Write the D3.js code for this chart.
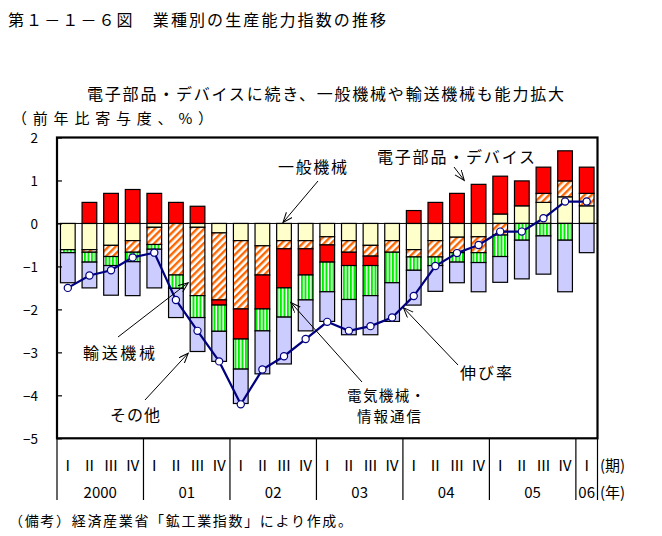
<!DOCTYPE html>
<html><head><meta charset="utf-8">
<script src="https://cdn.jsdelivr.net/npm/d3@7"></script>
<style>
body{margin:0;background:#fff;}
svg{display:block;}
text{font-family:"Noto Sans CJK JP","Noto Sans",sans-serif;fill:#000;}
</style>
</head><body>
<svg id="c" width="662" height="536"></svg>
<script>
// ---- data ----
const quarters = ["Ⅰ","Ⅱ","Ⅲ","Ⅳ","Ⅰ","Ⅱ","Ⅲ","Ⅳ","Ⅰ","Ⅱ","Ⅲ","Ⅳ","Ⅰ","Ⅱ","Ⅲ","Ⅳ","Ⅰ","Ⅱ","Ⅲ","Ⅳ","Ⅰ","Ⅱ","Ⅲ","Ⅳ","Ⅰ"];
const years = ["2000","01","02","03","04","05","06"];
const yearQuarters = [4,4,4,4,4,4,1];
const seriesKeys = ["ippan","yuso","denshi","denki","sonota"];
const seriesNames = ["一般機械","輸送機械","電子部品・デバイス","電気機械・情報通信","その他"];
const ippan  = [-0.61,-0.61,-0.51,-0.40,-0.09, 0.00,-0.09,-0.22,-0.40,-0.52,-0.40,-0.40,-0.31,-0.40,-0.51,-0.40,-0.61,-0.40,-0.32,-0.31, 0.22, 0.41, 0.49, 0.62, 0.41];
const yuso   = [ 0.00,-0.06,-0.26,-0.27,-0.40,-1.20,-1.59,-1.56,-1.59,-0.68,-0.19,-0.19,-0.19,-0.27,-0.25,-0.27,-0.17,-0.38,-0.36,-0.37,-0.27, 0.00, 0.21, 0.37, 0.29];
const denshi = [ 0.00, 0.49, 0.70, 0.79, 0.70, 0.49, 0.40,-0.12,-0.70,-0.79,-0.91,-0.61,-0.40,-0.31,-0.22, 0.00, 0.30, 0.49, 0.70, 0.91, 0.88, 0.58, 0.61, 0.70, 0.61];
const denki  = [-0.07,-0.23,-0.21,-0.22,-0.11,-0.31,-0.51,-0.61,-0.70,-0.51,-0.68,-0.58,-0.69,-0.79,-0.70,-0.71,-0.31,-0.20,-0.22,-0.23,-0.50,-0.39,-0.29,-0.39, 0.00];
const sonota = [-0.70,-0.60,-0.69,-0.79,-0.90,-0.68,-0.79,-0.70,-0.80,-1.00,-1.09,-0.72,-0.69,-0.82,-0.91,-0.90,-0.81,-0.60,-0.48,-0.68,-0.60,-0.90,-0.89,-1.20,-0.68];
const growth = [-1.50,-1.21,-1.09,-0.79,-0.68,-1.78,-2.50,-3.21,-4.21,-3.40,-3.09,-2.69,-2.29,-2.50,-2.39,-2.19,-1.69,-0.99,-0.69,-0.50,-0.19,-0.19, 0.12, 0.51, 0.51];
const yTicks = [-5,-4,-3,-2,-1,0,1,2];

// ---- layout ----
const L = 57, R = 597.5, T = 137.5, B = 438.3;
const svg = d3.select("#c");
const defs = svg.append("defs");

const pO = defs.append("pattern").attr("id","hatchO").attr("patternUnits","userSpaceOnUse")
  .attr("width",5).attr("height",5).attr("patternTransform","rotate(45)");
pO.append("rect").attr("width",5).attr("height",5).attr("fill","#fff");
pO.append("rect").attr("width",2.4).attr("height",5).attr("fill","#FF6600");

const pG = defs.append("pattern").attr("id","stripeG").attr("patternUnits","userSpaceOnUse")
  .attr("width",3.5).attr("height",4);
pG.append("rect").attr("width",3.5).attr("height",4).attr("fill","#fff");
pG.append("rect").attr("width",2).attr("height",4).attr("fill","#00EE00");

defs.append("marker").attr("id","arr").attr("markerUnits","userSpaceOnUse")
  .attr("markerWidth",12).attr("markerHeight",10).attr("refX",10).attr("refY",4)
  .attr("orient","auto")
  .append("path").attr("d","M0,0 L10,4 L0,8").attr("fill","none").attr("stroke","#000").attr("stroke-width",1);

const fills = {ippan:"#FFFFCC", yuso:"url(#hatchO)", denshi:"#FF0000", denki:"url(#stripeG)", sonota:"#CCCCFF"};

const x = d3.scaleBand().domain(d3.range(quarters.length)).range([L,R]).paddingInner(0.32).paddingOuter(0.16);
const y = d3.scaleLinear().domain([-5,2]).range([B,T]);
const cx = i => x(i) + x.bandwidth()/2;

// titles
svg.append("text").attr("x",8).attr("y",19).attr("dominant-baseline","central")
  .attr("font-size",16).attr("textLength",378).attr("lengthAdjust","spacing")
  .text("第１－１－６図　業種別の生産能力指数の推移");
svg.append("text").attr("x",87).attr("y",93).attr("dominant-baseline","central")
  .attr("font-size",16).attr("textLength",477).attr("lengthAdjust","spacing")
  .text("電子部品・デバイスに続き、一般機械や輸送機械も能力拡大");
svg.append("text").attr("x",12).attr("y",117).attr("dominant-baseline","central")
  .attr("font-size",15).attr("textLength",201).attr("lengthAdjust","spacing")
  .text("（前年比寄与度、%）");

// stacked bars
const rows = quarters.map((q,i)=>({ippan:ippan[i], yuso:yuso[i], denshi:denshi[i], denki:denki[i], sonota:sonota[i]}));
const stacked = d3.stack().keys(seriesKeys).offset(d3.stackOffsetDiverging)(rows);
const gBars = svg.append("g");
stacked.forEach(s=>{
  gBars.selectAll(null).data(s.map((d,i)=>({d,i})).filter(o=>o.d[1]!==o.d[0]))
    .enter().append("rect")
    .attr("x",o=>x(o.i)).attr("width",x.bandwidth())
    .attr("y",o=>y(Math.max(o.d[0],o.d[1])))
    .attr("height",o=>Math.abs(y(o.d[0])-y(o.d[1])))
    .attr("fill",fills[s.key]).attr("stroke","#000").attr("stroke-width",1.2);
});

// zero line
svg.append("line").attr("x1",L).attr("x2",R).attr("y1",y(0)).attr("y2",y(0))
  .attr("stroke","#000").attr("stroke-width",1);

// growth line
svg.append("path").datum(growth)
  .attr("d",d3.line().x((d,i)=>cx(i)).y(d=>y(d)))
  .attr("fill","none").attr("stroke","#000080").attr("stroke-width",2.2);
svg.selectAll(null).data(growth).enter().append("circle")
  .attr("cx",(d,i)=>cx(i)).attr("cy",d=>y(d)).attr("r",3.6)
  .attr("fill","#fff").attr("stroke","#000080").attr("stroke-width",1.2);

// frame
svg.append("rect").attr("x",L).attr("y",T).attr("width",R-L).attr("height",B-T)
  .attr("fill","none").attr("stroke","#000").attr("stroke-width",2.2);

// y axis
const ax = svg.append("g").attr("transform",`translate(${L},0)`)
  .call(d3.axisLeft(y).tickValues(yTicks).tickSize(-5).tickPadding(19).tickFormat(d3.format("d")));
ax.select(".domain").remove();
ax.selectAll(".tick line").attr("stroke","#000").attr("stroke-width",1.2);
ax.selectAll(".tick text").attr("font-size",13.5).attr("font-family","'Noto Sans CJK JP',sans-serif").attr("dy","0.35em").attr("fill","#000");

// x category table
const step = x.step();
const sepIdx = [0]; yearQuarters.reduce((a,c)=>{a+=c; sepIdx.push(a); return a;},0);
svg.selectAll(null).data(sepIdx).enter().append("line")
  .attr("x1",k=>L+k*step).attr("x2",k=>L+k*step).attr("y1",B).attr("y2",500)
  .attr("stroke","#000").attr("stroke-width",1.2);
svg.selectAll(null).data(quarters).enter().append("text")
  .attr("x",(d,i)=>cx(i)).attr("y",464).attr("text-anchor","middle").attr("dominant-baseline","central")
  .attr("font-size",15).text(d=>d);
svg.selectAll(null).data(years).enter().append("text")
  .attr("x",(d,i)=>L+(sepIdx[i]+sepIdx[i+1])/2*step).attr("y",491)
  .attr("text-anchor","middle").attr("dominant-baseline","central").attr("font-size",15).text(d=>d);
svg.append("text").attr("x",600).attr("y",464).attr("dominant-baseline","central").attr("font-size",15).text("(期)");
svg.append("text").attr("x",600).attr("y",491).attr("dominant-baseline","central").attr("font-size",15).text("(年)");

// note
svg.append("text").attr("x",9).attr("y",520).attr("dominant-baseline","central")
  .attr("font-size",14).attr("textLength",343).attr("lengthAdjust","spacing")
  .text("（備考）経済産業省「鉱工業指数」により作成。");

// annotations (arrow tips anchored to data positions)
function arrow(x1,y1,x2,y2){
  svg.append("line").attr("x1",x1).attr("y1",y1).attr("x2",x2).attr("y2",y2)
    .attr("stroke","#000").attr("stroke-width",1).attr("marker-end","url(#arr)");
}
function label(txt,x0,y0,len,fs){
  svg.append("text").attr("x",x0).attr("y",y0).attr("dominant-baseline","central")
    .attr("font-size",fs||16).attr("textLength",len).attr("lengthAdjust","spacing").text(txt);
}
label(seriesNames[0],278,166,69);
arrow(318,181,cx(10)-1,y(0)-1);
label("電子部品・デバイス",377,155.5,158);
arrow(454,167,x(19)-7,y(denshi[19])-4);
label(seriesNames[1],83,352,72);
arrow(118,337,x(6)-2,y(-1.38));
label(seriesNames[4],110,414,50);
arrow(145,400,x(6)-2,y(-3.02));
label("電気機械・",347,394,78,14.5);
label("情報通信",357,415.5,64,14.5);
arrow(362,382,x(10)+x.bandwidth()-0.5,y(-1.84));
label("伸び率",460,372,52);
arrow(458,365,(cx(15)+cx(16))/2+0.5,y(-1.96));
</script>
</body></html>
